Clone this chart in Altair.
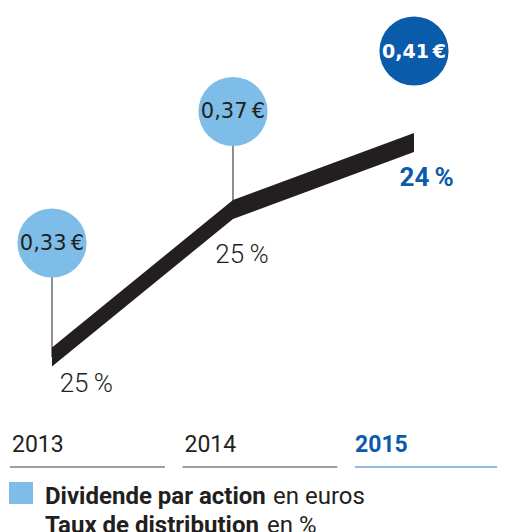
import altair as alt
import pandas as pd

# ---- data ----
years = [2013, 2014, 2015]
dividend = [0.33, 0.37, 0.41]          # € per share (circles)
payout = [25, 25, 24]                  # payout ratio, %
line_level = [33.40, 61.55, 74.33]     # height of the thick black line (arbitrary units 0-100)
circle_level = [55.15, 80.25, 91.79]   # height of the circles (same units)
pct_level = [26.72, 51.34, 66.03]      # baseline of the % labels (same units)
pct_x = [2013.19, 2014.05, 2015.07]    # centre of the % labels (year units)
kind = ["past", "past", "current"]
legend_bold = ["Dividende par action", "Taux de distribution"]
legend_regular = ["en euros", "en %"]

INK = "#231f20"
LIGHT = "#7dbde8"
DARK = "#0a5cab"
GRAY = "#808080"
LINEBLUE = "#6aa3da"

df = pd.DataFrame({
    "year": years, "dividend": dividend, "payout": payout,
    "line_level": line_level, "circle_level": circle_level,
    "pct_level": pct_level, "pct_x": pct_x, "kind": kind,
})
df["div_label"] = [f"{v:.2f}".replace(".", ",") + "\u202f€" for v in dividend]
df["pct_label"] = [f"{p}\u2009%" for p in payout]
df["year_label"] = [str(y) for y in years]

xs = alt.Scale(domain=[2012.757, 2015.4586], nice=False, zero=False)
ys = alt.Scale(domain=[0, 100], nice=False, zero=False)


def X(field):
    return alt.X(field, type="quantitative", scale=xs, axis=None)


def Y(field):
    return alt.Y(field, type="quantitative", scale=ys, axis=None)


base = alt.Chart(df)
past = "datum.kind == 'past'"
cur = "datum.kind == 'current'"

rules = base.transform_filter(past).mark_rule(color=INK, strokeWidth=1).encode(
    x=X("year"), y=Y("circle_level"), y2="line_level:Q")

band = base.transform_calculate(
    top="datum.line_level + 1.81", bot="datum.line_level - 1.81"
).mark_area(color=INK).encode(x=X("year"), y=Y("top"), y2="bot:Q")

circ_past = base.transform_filter(past).mark_circle(size=4778, opacity=1, color=LIGHT).encode(
    x=X("year"), y=Y("circle_level"))
circ_cur = base.transform_filter(cur).mark_circle(size=4778, opacity=1, color=DARK).encode(
    x=X("year"), y=Y("circle_level"))

div_past = base.transform_filter(past).mark_text(
    font="DejaVu Sans", fontSize=21, color=INK, baseline="middle", align="center", dy=1
).encode(x=X("year"), y=Y("circle_level"), text="div_label:N")
div_cur = base.transform_filter(cur).mark_text(
    font="DejaVu Sans", fontSize=19, fontWeight="bold", color="white", baseline="middle", align="center", dy=1
).encode(x=X("year"), y=Y("circle_level"), text="div_label:N")

pct_past = base.transform_filter(past).mark_text(
    font="Roboto", fontSize=26, fontWeight=300, color=INK, align="center", baseline="alphabetic"
).encode(x=X("pct_x"), y=Y("pct_level"), text="pct_label:N")
pct_cur = base.transform_filter(cur).mark_text(
    font="Roboto", fontSize=26, fontWeight="bold", color=DARK, align="center", baseline="alphabetic"
).encode(x=X("pct_x"), y=Y("pct_level"), text="pct_label:N")

cols = base.transform_calculate(
    colstart="2012.768 + (datum.year - 2013) * 0.953",
    colend="2012.768 + (datum.year - 2013) * 0.953 + 0.856",
)
year_past = cols.transform_filter(past).mark_text(
    font="Roboto", fontSize=23, color=INK, align="left", baseline="alphabetic", dx=2
).encode(x=X("colstart"), y=alt.value(444), text="year_label:N")
year_cur = cols.transform_filter(cur).mark_text(
    font="Roboto", fontSize=23, fontWeight="bold", color=DARK, align="left", baseline="alphabetic", dx=0
).encode(x=X("colstart"), y=alt.value(444), text="year_label:N")
ul_past = cols.transform_filter(past).mark_rule(color=GRAY, strokeWidth=1.5).encode(
    x=X("colstart"), x2="colend:Q", y=alt.value(459))
ul_cur = cols.transform_filter(cur).mark_rule(color=LINEBLUE, strokeWidth=1.5).encode(
    x=X("colstart"), x2="colend:Q", y=alt.value(459))

leg_df = pd.DataFrame({"bold": legend_bold, "regular": legend_regular, "row": [0, 1]})
leg = alt.Chart(leg_df)
leg_rect = leg.transform_filter("datum.row == 0").mark_rect(color=LIGHT).encode(
    x=alt.value(1), x2=alt.value(25), y=alt.value(474), y2=alt.value(496))
leg_b1 = leg.transform_filter("datum.row == 0").mark_text(
    font="Roboto", fontSize=24, fontWeight="bold", color=INK, align="left", baseline="alphabetic"
).encode(x=alt.value(37), y=alt.value(496), text="bold:N")
leg_r1 = leg.transform_filter("datum.row == 0").mark_text(
    font="Roboto", fontSize=24, color=INK, align="left", baseline="alphabetic"
).encode(x=alt.value(265), y=alt.value(496), text="regular:N")
leg_b2 = leg.transform_filter("datum.row == 1").mark_text(
    font="Roboto", fontSize=24, fontWeight="bold", color=INK, align="left", baseline="alphabetic"
).encode(x=alt.value(37), y=alt.value(525), text="bold:N")
leg_r2 = leg.transform_filter("datum.row == 1").mark_text(
    font="Roboto", fontSize=24, color=INK, align="left", baseline="alphabetic"
).encode(x=alt.value(259), y=alt.value(525), text="regular:N")

chart = alt.layer(
    rules, band, circ_past, circ_cur, div_past, div_cur, pct_past, pct_cur,
    ul_past, ul_cur, year_past, year_cur,
    leg_rect, leg_b1, leg_r1, leg_b2, leg_r2,
).properties(
    width=489, height=524, padding=0,
    autosize=alt.AutoSizeParams(type="none"),
).configure_view(stroke=None)

chart.save("out.html", embed_options={"renderer": "svg", "actions": False})
